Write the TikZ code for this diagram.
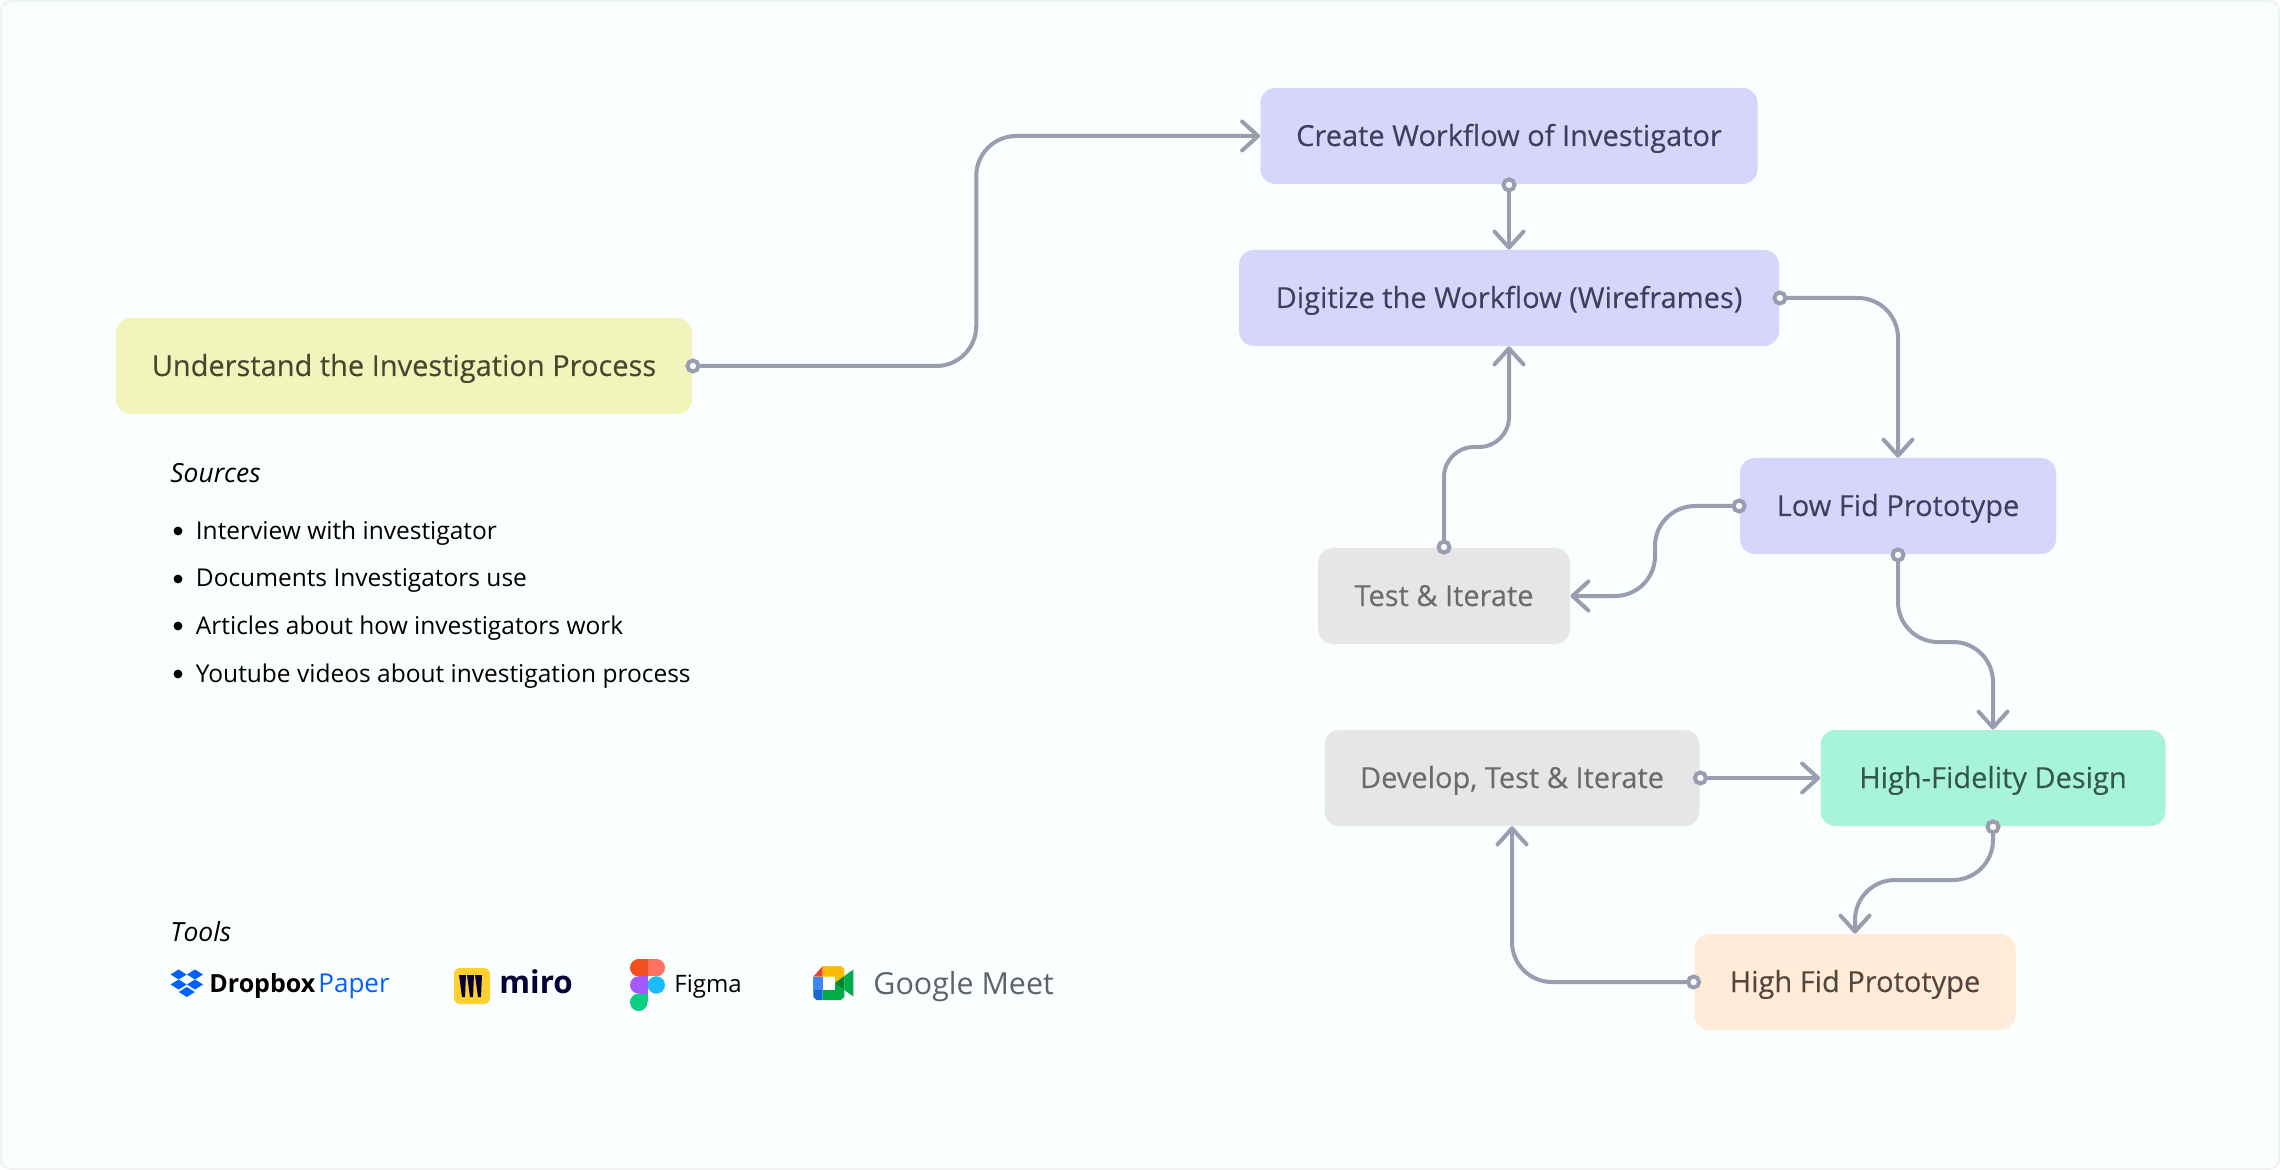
\documentclass[tikz,border=0pt]{standalone}
\usepackage{fontspec}
\usetikzlibrary{arrows.meta,calc}
\setmainfont{Open Sans}
\newfontfamily\boxfont[FakeBold=0.15]{Open Sans}

\definecolor{canvas}{HTML}{FBFEFE}
\definecolor{edgeline}{HTML}{F0F2F2}
\definecolor{linkgray}{HTML}{9A9CB0}
\definecolor{purplebox}{HTML}{D6D5FC}
\definecolor{purpletext}{HTML}{3F3F5A}
\definecolor{yellowbox}{HTML}{F1F5BB}
\definecolor{yellowtext}{HTML}{45482F}
\definecolor{graybox}{HTML}{E6E6E6}
\definecolor{graytext}{HTML}{6B6B6B}
\definecolor{greenbox}{HTML}{A7F4D8}
\definecolor{greentext}{HTML}{35574B}
\definecolor{orangebox}{HTML}{FFEBD8}
\definecolor{orangetext}{HTML}{51473F}
\definecolor{dropblue}{HTML}{0061FE}
\definecolor{miroyellow}{HTML}{FFD02F}
\definecolor{miroink}{HTML}{050038}
\definecolor{meetgray}{HTML}{5F6368}

\tikzset{
  box/.style={rounded corners=7.5pt, inner sep=0pt, minimum height=48pt, text height=10pt, text depth=0pt,
    font=\boxfont\fontsize{14.5}{16}\selectfont},
  link/.style={draw=linkgray, line width=2pt, line cap=round, rounded corners=20pt,
    shorten <=-3.5pt,
    {Circle[open, fill=canvas, length=7.5pt, width=7.5pt]}-{Straight Barb[length=8pt, width=14.5pt, round]}},
  listtext/.style={anchor=base west, inner sep=0pt, font=\fontsize{12.25}{14}\selectfont},
  headtext/.style={anchor=base west, inner sep=0pt, font=\itshape\fontsize{13.2}{14}\selectfont},
  logotext/.style={anchor=base west, inner sep=0pt}
}

\begin{document}
\begin{tikzpicture}[x=0.5pt, y=-0.5pt]
  \path[fill=canvas, draw=edgeline, line width=1pt, rounded corners=5pt] (1,1) rectangle (2279,1169);
  \useasboundingbox (0,0) rectangle (2280,1170);

  \node (understand) at (404,366)   [box, fill=yellowbox, minimum width=288pt, text=yellowtext] {Understand the Investigation Process};
  \node (create)     at (1509,136)  [box, fill=purplebox, minimum width=248.5pt, text=purpletext] {Create Workflow of Investigator};
  \node (digitize)   at (1509,298)  [box, fill=purplebox, minimum width=270pt, text=purpletext] {Digitize the Workflow (Wireframes)};
  \node (lowfid)     at (1898,506)  [box, fill=purplebox, minimum width=158pt, text=purpletext] {Low Fid Prototype};
  \node (testiter)   at (1444,596)  [box, fill=graybox, minimum width=126pt, text=graytext] {Test \& Iterate};
  \node (develop)    at (1512,778)  [box, fill=graybox, minimum width=187.5pt, text=graytext] {Develop, Test \& Iterate};
  \node (highdesign) at (1993,778)  [box, fill=greenbox, minimum width=172.5pt, text=greentext] {High-Fidelity Design};
  \node (highfid)    at (1855,982)  [box, fill=orangebox, minimum width=160.5pt, text=orangetext] {High Fid Prototype};

  % bends half way between the two boxes
  \coordinate (bendA) at ($(understand.east)!.5!(create.west)$);
  \coordinate (bendB) at ($(lowfid.west)!.5!(testiter.east)$);
  \coordinate (bendC) at ($(testiter.north)!.5!(digitize.south)$);
  \coordinate (bendD) at ($(lowfid.south)!.5!(highdesign.north)$);
  \coordinate (bendE) at ($(highdesign.south)!.5!(highfid.north)$);

  \draw[link] (understand.east) -- (bendA |- understand.east) -- (bendA |- create.west) -- (create.west);
  \draw[link] (create.south) -- (digitize.north);
  \draw[link] (digitize.east) -| (lowfid.north);
  \draw[link] (lowfid.west) -- (bendB |- lowfid.west) -- (bendB |- testiter.east) -- (testiter.east);
  \draw[link, rounded corners=15pt] (testiter.north) -- (testiter.north |- bendC) -- (digitize.south |- bendC) -- (digitize.south);
  \draw[link] (lowfid.south) -- (lowfid.south |- bendD) -- (highdesign.north |- bendD) -- (highdesign.north);
  \draw[link] (develop.east) -- (highdesign.west);
  \draw[link] (highdesign.south) -- (highdesign.south |- bendE) -- (highfid.north |- bendE) -- (highfid.north);
  \draw[link] (highfid.west) -| (develop.south);

  % sources list
  \node (sources) at (170,483) [headtext] {Sources};
  \foreach \name/\ypos/\label in {interview/539/Interview with investigator,
      documents/587/Documents Investigators use,
      articles/634/Articles about how investigators work,
      youtube/682/Youtube videos about investigation process} {
    \fill (178,\ypos-8) circle (2.2pt);
    \node (\name) at (195.5,\ypos) [listtext] {\label};
  }

  % tools
  \node (tools) at (170,941) [headtext] {Tools};

  % dropbox paper
  \foreach \cx/\cy in {178.6/974.5, 195/974.5, 178.6/984.5, 195/984.5, 186.8/992} {
    \fill[dropblue] (\cx-8,\cy) -- (\cx,\cy-5) -- (\cx+8,\cy) -- (\cx,\cy+5) -- cycle;
  }
  \node (dropbox) at (209,992) [logotext, font=\fontsize{12.5}{14}\selectfont\bfseries] {Dropbox};
  \node (paper) at (318,992) [logotext, text=dropblue, font=\fontsize{13}{14}\selectfont] {Paper};

  % miro
  \fill[miroyellow, rounded corners=3pt] (454,968) rectangle (490,1004);
  \foreach \sx in {462,470,478} {
    \fill[miroink] (\sx-3,975) -- (\sx+4,975) -- (\sx+3,997) -- (\sx,997) -- cycle;
  }
  \node (miro) at (499,993) [logotext, text=miroink, font=\fontsize{15.7}{18}\selectfont\bfseries] {miro};

  % figma
  \definecolor{figred}{HTML}{F24E1E}
  \definecolor{figorange}{HTML}{FF7262}
  \definecolor{figviolet}{HTML}{A259FF}
  \definecolor{figblue}{HTML}{1ABCFE}
  \definecolor{figgreen}{HTML}{0ACF83}
  \fill[figred] (638.75,967.7) circle (4.37pt);
  \fill[figred] (638.75,959) rectangle (647.5,976.3);
  \fill[figorange] (656.25,967.7) circle (4.37pt);
  \fill[figorange] (647.5,959) rectangle (656.25,976.3);
  \fill[figviolet] (638.75,985) circle (4.37pt);
  \fill[figviolet] (638.75,976.3) rectangle (647.5,993.6);
  \fill[figblue] (656.25,985) circle (4.37pt);
  \fill[figgreen] (638.75,1002.3) circle (4.37pt);
  \fill[figgreen] (638.75,993.6) rectangle (647.5,1002.3);
  \node (figma) at (674,992) [logotext, font=\fontsize{12}{14}\selectfont] {Figma};

  % google meet
  \definecolor{meetred}{HTML}{EA4335}
  \definecolor{meetyellow}{HTML}{FBBC04}
  \definecolor{meetblue}{HTML}{4285F4}
  \definecolor{meetnavy}{HTML}{1967D2}
  \definecolor{meetgreen}{HTML}{00AC47}
  \definecolor{meetdark}{HTML}{00832D}
  \fill[meetred] (813.3,976.7) -- (822.7,966) -- (822.7,976.7) -- cycle;
  \fill[meetyellow] (822.7,966) -- (841,966) -- (844.3,969) -- (844.3,977) -- (835,983) -- (835,976.7) -- (822.7,976.7) -- cycle;
  \fill[meetblue] (813.3,976.7) rectangle (822.7,990);
  \fill[meetnavy] (813.3,990) -- (822.7,990) -- (822.7,1000) -- (816.5,1000) -- (813.3,997) -- cycle;
  \fill[meetgreen] (822.7,990) -- (835,990) -- (835,983) -- (844.3,990) -- (844.3,997) -- (841,1000) -- (822.7,1000) -- cycle;
  \fill[meetdark] (835,983) -- (844.3,976) -- (844.3,990) -- cycle;
  \fill[meetgreen] (844.3,976) -- (853.3,969.5) -- (853.3,996.5) -- (844.3,990) -- cycle;
  \node (meet) at (873,994) [logotext, text=meetgray, font=\fontsize{15.2}{18}\selectfont] {Google Meet};
\end{tikzpicture}
\end{document}
